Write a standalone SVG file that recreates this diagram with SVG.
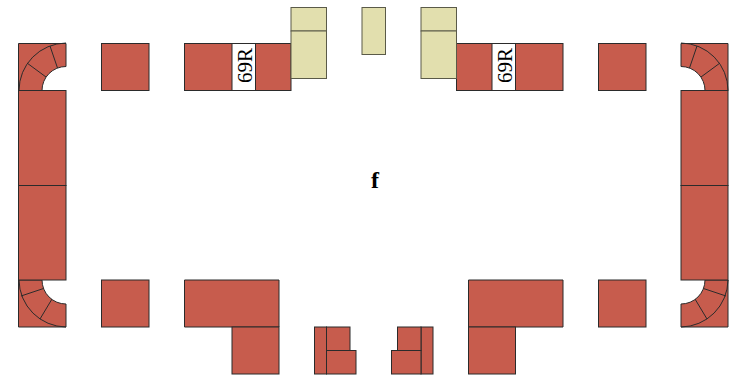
<svg xmlns="http://www.w3.org/2000/svg" width="736" height="377" viewBox="0 0 736 377">
<style>
.r{fill:#c75c4d;stroke:#2b2b2b;stroke-width:1}
.k{fill:#e2dfae;stroke:#5a5a48;stroke-width:1}
.w{fill:#fff;stroke:#2b2b2b;stroke-width:1}
.l{fill:none;stroke:#2b2b2b;stroke-width:1}
.t{font-family:"Liberation Serif",serif;fill:#000}
</style>
<g id="corner-tl"><path class="r" d="M18.500 43.500H66V66.500A24 24 0 0 0 42 90.500H18.500Z"/><path class="l" d="M19 90.500A47.500 47.500 0 0 1 66 43M27 63L46 77M50 46L57.500 68"/></g>
<g id="corner-bl"><path class="r" d="M18.500 280H42A24 24 0 0 0 66 304V327H18.500Z"/><path class="l" d="M19 280A47.500 47.500 0 0 0 66 327M21 296L43.500 288.500M40 319L52 299"/></g>
<g id="corner-tr"><path class="r" d="M728 43.500H681V66.500A24 24 0 0 1 705 90.500H728Z"/><path class="l" d="M728 90.500A47.500 47.500 0 0 0 681 43M720 63L701 77M697 46L689.500 68"/></g>
<g id="corner-br"><path class="r" d="M728 280H705A24 24 0 0 1 681 304V327H728Z"/><path class="l" d="M728 280A47.500 47.500 0 0 1 681 327M726 296L703.500 288.500M707 319L695 299"/></g>
<g id="wall-left"><rect class="r" x="18.500" y="90.500" width="47.500" height="95"/><rect class="r" x="18.500" y="185.500" width="47.500" height="94.500"/></g>
<g id="wall-right"><rect class="r" x="681" y="90.500" width="47" height="95"/><rect class="r" x="681" y="185.500" width="47" height="94.500"/></g>
<g id="block-top-1"><rect class="r" x="101.500" y="43.500" width="47.500" height="47"/></g>
<g id="block-top-4"><rect class="r" x="598.500" y="43.500" width="47.500" height="47"/></g>
<g id="block-bottom-1"><rect class="r" x="101.500" y="280" width="47.500" height="47"/></g>
<g id="block-bottom-4"><rect class="r" x="598.500" y="280" width="47.500" height="47"/></g>
<g id="desk-left"><rect class="r" x="184.500" y="43.500" width="106.500" height="47"/><rect class="w" x="232" y="43.500" width="23.500" height="47"/><text class="t" font-size="21" text-anchor="middle" transform="translate(251.500 65.500) rotate(-90)">69R</text></g>
<g id="desk-right"><rect class="r" x="456.500" y="43.500" width="106.500" height="47"/><rect class="w" x="492" y="43.500" width="23.500" height="47"/><text class="t" font-size="21" text-anchor="middle" transform="translate(511.500 65.500) rotate(-90)">69R</text></g>
<g id="khaki-left"><rect class="k" x="291" y="7.500" width="35.500" height="23.500"/><rect class="k" x="291" y="31" width="35.500" height="47.500"/></g>
<g id="khaki-mid"><rect class="k" x="362" y="7.500" width="23.500" height="47"/></g>
<g id="khaki-right"><rect class="k" x="421" y="7.500" width="35.500" height="23.500"/><rect class="k" x="421" y="31" width="35.500" height="47.500"/></g>
<g id="l-left"><path class="r" d="M184.500 280H279V327H184.500Z"/><rect class="r" x="232" y="327" width="47" height="47"/></g>
<g id="l-right"><path class="r" d="M468.500 280H563V327H468.500Z"/><rect class="r" x="468.500" y="327" width="47" height="47"/></g>
<g id="stack-left"><rect class="r" x="314.500" y="327" width="12" height="47"/><rect class="r" x="326.500" y="327" width="23.500" height="23.500"/><rect class="r" x="326.500" y="350.500" width="29.500" height="23.500"/></g>
<g id="stack-right"><rect class="r" x="421" y="327" width="12" height="47"/><rect class="r" x="397.500" y="327" width="23.500" height="23.500"/><rect class="r" x="391.500" y="350.500" width="29.500" height="23.500"/></g>
<g id="label-f"><text class="t" x="375" y="188" font-size="24" font-weight="bold" text-anchor="middle">f</text></g>
</svg>
